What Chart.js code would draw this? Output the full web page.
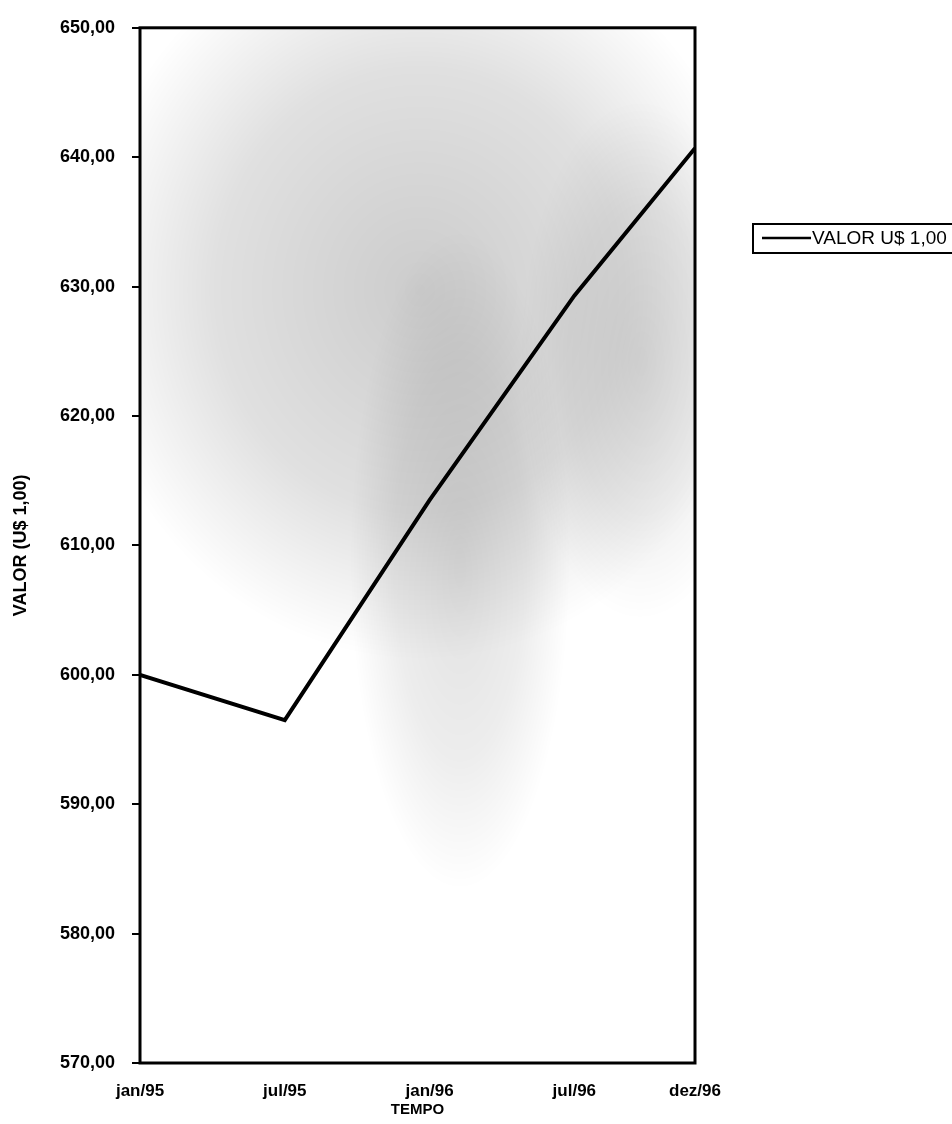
<!DOCTYPE html>
<html>
<head>
<meta charset="utf-8">
<style>
  html, body { margin: 0; padding: 0; background: #fff; }
  #wrap { width: 952px; height: 1124px; position: relative; }
</style>
<script src="https://cdn.jsdelivr.net/npm/chart.js@4.4.1/dist/chart.umd.min.js"></script>
</head>
<body>
<div id="wrap"><canvas id="c" width="952" height="1124"></canvas></div>
<script>
// Months counted from jan/95 (0) to dez/96 (23)
const months = [0, 6, 12, 18, 23];
const values = [600.0, 596.5, 613.5, 629.3, 640.7];
const tickMonths = [0, 6, 12, 18, 23];
const tickLabels = ['jan/95', 'jul/95', 'jan/96', 'jul/96', 'dez/96'];
const seriesName = 'VALOR U$ 1,00';

const FONT = "'Liberation Sans', Arial, sans-serif";

// Light toner haze behind the plot
const hazePlugin = {
  id: 'haze',
  beforeDraw(chart) {
    const { ctx, chartArea: a } = chart;
    ctx.save();
    ctx.beginPath();
    ctx.rect(a.left, a.top, a.right - a.left, a.bottom - a.top);
    ctx.clip();
    const blobs = [
      { x: 420, y: 290, rx: 340, ry: 370, c: 0.20 },
      { x: 460, y: 560, rx: 110, ry: 330, c: 0.12 },
      { x: 640, y: 360, rx: 120, ry: 260, c: 0.10 }
    ];
    for (const b of blobs) {
      ctx.save();
      ctx.translate(b.x, b.y);
      ctx.scale(b.rx / 100, b.ry / 100);
      const g = ctx.createRadialGradient(0, 0, 0, 0, 0, 100);
      g.addColorStop(0, `rgba(0,0,0,${b.c})`);
      g.addColorStop(0.6, `rgba(0,0,0,${b.c * 0.6})`);
      g.addColorStop(1, 'rgba(0,0,0,0)');
      ctx.fillStyle = g;
      ctx.fillRect(-100, -100, 200, 200);
      ctx.restore();
    }
    ctx.restore();
  }
};

// Heavy frame round the plot area
const framePlugin = {
  id: 'frame',
  afterDraw(chart) {
    const { ctx, chartArea: a } = chart;
    ctx.save();
    ctx.strokeStyle = '#000';
    ctx.lineWidth = 3;
    ctx.strokeRect(a.left, a.top, a.right - a.left, a.bottom - a.top);
    ctx.restore();
  }
};

// Boxed legend to the right of the plot
const boxLegendPlugin = {
  id: 'boxLegend',
  afterDraw(chart) {
    const { ctx } = chart;
    const ds = chart.data.datasets[0];
    const x = 753, y = 224, w = 205, h = 29;
    ctx.save();
    ctx.strokeStyle = '#000';
    ctx.lineWidth = 2;
    ctx.strokeRect(x, y, w, h);
    ctx.lineWidth = 2.5;
    ctx.beginPath();
    ctx.moveTo(x + 9, y + 14);
    ctx.lineTo(x + 58, y + 14);
    ctx.stroke();
    ctx.fillStyle = '#000';
    ctx.font = `19px ${FONT}`;
    ctx.textBaseline = 'middle';
    ctx.fillText(ds.label, x + 59, y + 15);
    ctx.restore();
  }
};

new Chart(document.getElementById('c'), {
  type: 'line',
  data: {
    datasets: [{
      label: seriesName,
      data: months.map((m, i) => ({ x: m, y: values[i] })),
      borderColor: '#000',
      borderWidth: 4,
      pointRadius: 0,
      tension: 0,
      fill: false
    }]
  },
  options: {
    responsive: false,
    animation: false,
    layout: { padding: { top: 24, right: 257, left: 0, bottom: 0 } },
    plugins: {
      legend: { display: false },
      tooltip: { enabled: false }
    },
    scales: {
      x: {
        type: 'linear',
        min: 0,
        max: 23,
        afterBuildTicks(scale) {
          scale.ticks = tickMonths.map(v => ({ value: v }));
        },
        afterFit(scale) { scale.height = 61; },
        border: { display: false },
        grid: { display: false, drawTicks: false },
        ticks: {
          autoSkip: false,
          maxRotation: 0,
          padding: 18,
          color: '#000',
          font: { family: FONT, size: 17, weight: 'bold' },
          callback: v => tickLabels[tickMonths.indexOf(v)]
        },
        title: {
          display: true,
          text: 'TEMPO',
          color: '#000',
          font: { family: FONT, size: 15, weight: 'bold' },
          padding: { top: 0, bottom: 5 }
        }
      },
      y: {
        min: 570,
        max: 650,
        afterFit(scale) { scale.width = 140; },
        border: { display: false },
        grid: {
          drawOnChartArea: false,
          drawTicks: true,
          tickLength: 8,
          color: '#000',
          lineWidth: 2
        },
        ticks: {
          stepSize: 10,
          padding: 17,
          color: '#000',
          font: { family: FONT, size: 18, weight: 'bold' },
          callback: v => v.toFixed(2).replace('.', ',')
        },
        title: {
          display: true,
          text: 'VALOR (U$ 1,00)',
          color: '#000',
          font: { family: FONT, size: 18, weight: 'bold' },
          padding: { top: 10, bottom: 0 }
        }
      }
    }
  },
  plugins: [hazePlugin, framePlugin, boxLegendPlugin]
});
</script>
</body>
</html>
